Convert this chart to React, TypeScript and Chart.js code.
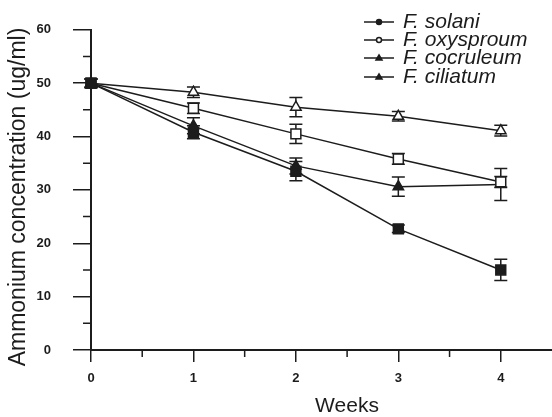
import React, { useEffect, useRef } from "react";
import { Chart, registerables } from "chart.js";

Chart.register(...registerables);

const weeks = [0, 1, 2, 3, 4];
const seriesNames = ["F. solani", "F. oxysproum", "F. cocruleum", "F. ciliatum"];
const solani = [50, 40.8, 33.5, 22.7, 15.0];
const solaniErr = [0.8, 1.2, 1.8, 0.7, 2.0];
const oxysporum = [50, 45.3, 40.5, 35.8, 31.5];
const oxysporumErr = [0.8, 1.0, 1.8, 1.0, 1.0];
const cocruleum = [50, 48.3, 45.5, 43.8, 41.1];
const cocruleumErr = [0.8, 1.0, 1.8, 0.9, 1.0];
const ciliatum = [50, 42.0, 34.5, 30.6, 31.0];
const ciliatumErr = [0.8, 1.5, 1.5, 1.8, 3.0];
const yTicks = [0, 10, 20, 30, 40, 50, 60];
const xTicks = [0, 1, 2, 3, 4];
const yMinor = [5, 15, 25, 35, 45, 55];
const xMinor = [0.5, 1.5, 2.5, 3.5];

const INK = "#1c1c1c";
const FONT = "'Liberation Sans', Arial, sans-serif";

const errors = [solaniErr, oxysporumErr, cocruleumErr, ciliatumErr];

const errorBarPlugin = {
  id: "errorBars",
  beforeDatasetsDraw(chart: any) {
    const ctx = chart.ctx;
    const xs = chart.scales.x;
    const ys = chart.scales.y;
    ctx.save();
    ctx.strokeStyle = INK;
    ctx.lineWidth = 1.5;
    chart.data.datasets.forEach((ds: any, i: number) => {
      const errs = errors[i];
      ds.data.forEach((p: any, j: number) => {
        const e = errs[j];
        const x = xs.getPixelForValue(p.x);
        const y1 = ys.getPixelForValue(p.y + e);
        const y2 = ys.getPixelForValue(p.y - e);
        ctx.beginPath();
        ctx.moveTo(x, y1);
        ctx.lineTo(x, y2);
        ctx.moveTo(x - 6.5, y1);
        ctx.lineTo(x + 6.5, y1);
        ctx.moveTo(x - 6.5, y2);
        ctx.lineTo(x + 6.5, y2);
        ctx.stroke();
      });
    });
    ctx.restore();
  },
};

const decorPlugin = {
  id: "decor",
  afterDraw(chart: any) {
    const ctx = chart.ctx;
    const xs = chart.scales.x;
    const ys = chart.scales.y;
    const area = chart.chartArea;
    ctx.save();
    ctx.strokeStyle = INK;
    ctx.lineWidth = 1.5;
    // minor ticks
    ctx.beginPath();
    yMinor.forEach((v) => {
      const y = ys.getPixelForValue(v);
      ctx.moveTo(area.left - 8, y);
      ctx.lineTo(area.left, y);
    });
    xMinor.forEach((v) => {
      const x = xs.getPixelForValue(v);
      ctx.moveTo(x, area.bottom);
      ctx.lineTo(x, area.bottom + 7);
    });
    ctx.stroke();

    // axis titles
    ctx.fillStyle = INK;
    ctx.font = `21px ${FONT}`;
    ctx.textAlign = "center";
    ctx.textBaseline = "middle";
    ctx.fillText("Weeks", 347, 406);
    ctx.save();
    ctx.translate(19, 197);
    ctx.rotate(-Math.PI / 2);
    ctx.font = `23px ${FONT}`;
    ctx.fillText("Ammonium concentration (ug/ml)", 0, 0);
    ctx.restore();

    // legend
    const lx0 = 364;
    const lx1 = 394;
    const ly = [22, 40, 58, 77];
    chart.data.datasets.forEach((ds: any, i: number) => {
      const y = ly[i];
      ctx.beginPath();
      ctx.lineWidth = 1.5;
      ctx.moveTo(lx0, y);
      ctx.lineTo(lx1, y);
      ctx.stroke();
      const cx = (lx0 + lx1) / 2;
      ctx.beginPath();
      if (i === 2 || i === 3) {
        ctx.moveTo(cx, y - 3);
        ctx.lineTo(cx + 3, y + 2);
        ctx.lineTo(cx - 3, y + 2);
        ctx.closePath();
      } else {
        ctx.arc(cx, y, 2.5, 0, Math.PI * 2);
      }
      ctx.fillStyle = i === 1 ? "#fff" : INK;
      ctx.fill();
      ctx.stroke();
      ctx.fillStyle = INK;
      ctx.font = `italic 21px ${FONT}`;
      ctx.textAlign = "left";
      ctx.textBaseline = "middle";
      ctx.fillText(ds.label, 403, y);
    });
    ctx.restore();
  },
};

function pts(vals: number[]) {
  return vals.map((v, i) => ({ x: weeks[i], y: v }));
}

export default function App() {
  const ref = useRef<HTMLCanvasElement>(null);
  useEffect(() => {
    if (!ref.current) return;
    const common = {
      borderColor: INK,
      borderWidth: 1.5,
      pointBorderColor: INK,
      pointBorderWidth: 1.5,
      tension: 0,
      clip: false,
    };
    const chart = new Chart(ref.current, {
      type: "line",
      data: {
        datasets: [
          { ...common, label: seriesNames[0], data: pts(solani), pointStyle: "rect", pointRadius: 7, pointBackgroundColor: INK },
          { ...common, label: seriesNames[1], data: pts(oxysporum), pointStyle: "rect", pointRadius: 7, pointBackgroundColor: "#fff" },
          { ...common, label: seriesNames[2], data: pts(cocruleum), pointStyle: "triangle", pointRadius: 6, pointBackgroundColor: "#fff" },
          { ...common, label: seriesNames[3], data: pts(ciliatum), pointStyle: "triangle", pointRadius: 6, pointBackgroundColor: INK },
        ],
      },
      options: {
        animation: false,
        responsive: false,
        devicePixelRatio: 1,
        layout: { autoPadding: false, padding: { top: 25, right: 0, left: 0, bottom: 0 } },
        plugins: { legend: { display: false }, tooltip: { enabled: false } },
        scales: {
          x: {
            type: "linear",
            min: 0,
            max: 4.5,
            afterFit: (s: any) => { s.height = 67; s.paddingRight = 0; s.paddingLeft = 0; },
            afterBuildTicks: (s: any) => { s.ticks = xTicks.map((v) => ({ value: v })); },
            grid: { display: true, drawOnChartArea: false, drawTicks: true, tickLength: 12, color: INK, lineWidth: 1.5 },
            border: { display: true, color: INK, width: 2 },
            ticks: { color: INK, padding: 9, font: { family: FONT, size: 13, weight: "bold" } },
          },
          y: {
            type: "linear",
            min: 0,
            max: 60,
            afterFit: (s: any) => { s.width = 91; },
            afterBuildTicks: (s: any) => { s.ticks = yTicks.map((v) => ({ value: v })); },
            grid: { display: true, drawOnChartArea: false, drawTicks: true, tickLength: 18, color: INK, lineWidth: 1.5 },
            border: { display: true, color: INK, width: 2 },
            ticks: { color: INK, padding: 22, font: { family: FONT, size: 13, weight: "bold" } },
          },
        },
      } as any,
      plugins: [errorBarPlugin, decorPlugin],
    });
    return () => chart.destroy();
  }, []);
  return (
    <div style={{ position: "absolute", left: 0, top: 0, width: 552, height: 417, background: "#fff" }}>
      <canvas ref={ref} width={552} height={417} />
    </div>
  );
}
